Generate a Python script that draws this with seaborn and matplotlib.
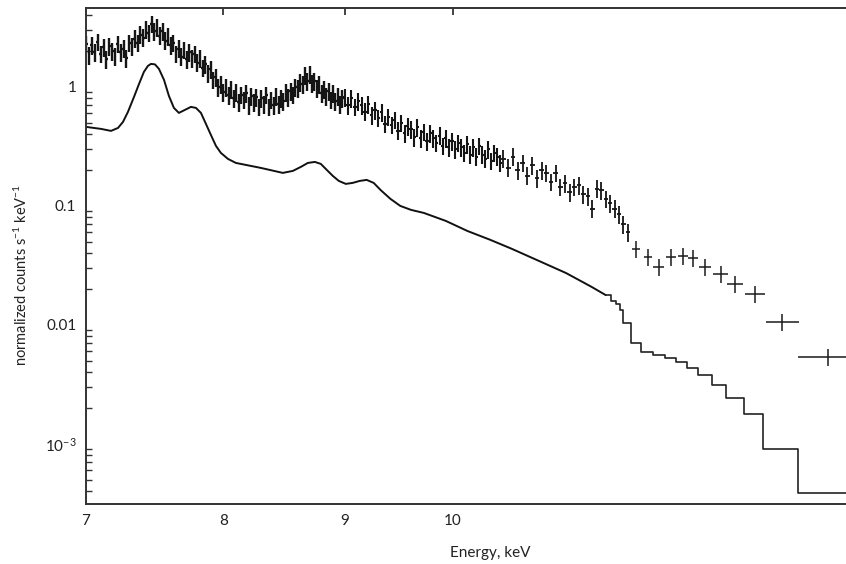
import numpy as np
import seaborn as sns
import matplotlib
matplotlib.use("Agg")
import matplotlib.pyplot as plt
from matplotlib.ticker import FixedLocator, NullFormatter, LogLocator

# --- observed spectrum (dense part, three binnings) ---
e_lo = np.arange(7.00, 8.99, 0.02)          # 7.00 .. 8.98
c_lo = [2.30, 1.85, 2.25, 1.95, 2.40, 1.90, 2.15, 1.70, 2.20, 2.00,
        1.80, 2.30, 1.95, 2.10, 1.75, 2.35, 2.20, 2.55, 2.35, 2.75,
        2.60, 3.05, 2.85, 3.40, 2.95, 3.15, 2.70, 2.95, 2.45, 2.65,
        2.25, 2.35, 1.90, 2.10, 1.80, 2.05, 1.70, 1.95, 1.75, 1.90,
        1.60, 1.75, 1.45, 1.55, 1.30, 1.40, 1.15, 1.20, 1.00, 1.05,
        0.90, 1.00, 0.85, 0.96, 0.80, 0.90, 0.74, 0.86, 0.78, 0.88,
        0.70, 0.84, 0.74, 0.82, 0.68, 0.80, 0.72, 0.86, 0.68, 0.78,
        0.70, 0.84, 0.72, 0.80, 0.76, 0.90, 0.82, 0.92, 0.86, 1.00,
        0.98, 1.10, 1.05, 1.25, 1.12, 1.28, 1.08, 1.12, 0.98, 1.05,
        0.88, 0.96, 0.84, 0.92, 0.78, 0.88, 0.76, 0.84, 0.72, 0.80]

e_mid = np.arange(9.00, 10.49, 0.03)        # 9.00 .. 10.47
c_mid = [0.82, 0.70, 0.80, 0.68, 0.76, 0.70, 0.62, 0.72, 0.58, 0.64,
         0.55, 0.61, 0.49, 0.56, 0.48, 0.53, 0.43, 0.50, 0.41, 0.47,
         0.44, 0.38, 0.46, 0.37, 0.42, 0.35, 0.41, 0.37, 0.34, 0.39,
         0.32, 0.37, 0.31, 0.35, 0.30, 0.34, 0.31, 0.28, 0.33, 0.27,
         0.31, 0.26, 0.32, 0.27, 0.25, 0.30, 0.24, 0.28, 0.26, 0.23]

e_hi = np.arange(10.50, 11.86, 0.05)        # 10.50 .. 11.85
c_hi = [0.25, 0.21, 0.26, 0.20, 0.23, 0.18, 0.22, 0.17, 0.20, 0.19,
        0.16, 0.19, 0.145, 0.155, 0.13, 0.145, 0.15, 0.125, 0.12, 0.095,
        0.14, 0.135, 0.115, 0.105, 0.095, 0.085, 0.07, 0.06]

# --- observed spectrum (wide bins at high energy) ---
e_wide = [11.95, 12.08, 12.21, 12.36, 12.50, 12.63, 12.78, 12.97,
          13.15, 13.41, 13.77, 14.40]
w_wide = [0.046, 0.047, 0.06, 0.06, 0.06, 0.06, 0.075, 0.09,
          0.10, 0.135, 0.22, 0.42]
c_wide = [0.0435, 0.0373, 0.0307, 0.0373, 0.038, 0.0366, 0.0307, 0.0268,
          0.0221, 0.0182, 0.0106, 0.00538]

rel_err = {"lo": 0.17, "mid": 0.17, "hi": 0.17, "wide": 0.16}

# --- folded model: smooth part and coarse-binned part ---
m_e = [7.00, 7.103, 7.172, 7.221, 7.256, 7.291, 7.334, 7.370, 7.405, 7.434,
       7.456, 7.485, 7.514, 7.551, 7.587, 7.624, 7.661, 7.706, 7.751, 7.789,
       7.827, 7.865, 7.903, 7.942, 7.980, 8.035, 8.097, 8.296, 8.475, 8.558,
       8.625, 8.684, 8.743, 8.794, 8.845, 8.897, 8.949, 9.010, 9.071, 9.133,
       9.195, 9.258, 9.32, 9.41, 9.50, 9.60, 9.72, 9.93, 10.14, 10.37,
       10.59, 10.87, 11.16, 11.44, 11.60]
m_v = [0.4612, 0.4436, 0.4269, 0.4521, 0.5080, 0.6166, 0.8240, 1.0598, 1.3366, 1.5012,
       1.5605, 1.5455, 1.4164, 1.1450, 0.8401, 0.6661, 0.6045, 0.6408, 0.6790, 0.6661,
       0.6045, 0.4887, 0.3950, 0.3192, 0.2789, 0.2483, 0.2297, 0.2086, 0.1894, 0.1968,
       0.2127, 0.2297, 0.2342, 0.2254, 0.2007, 0.1787, 0.1622, 0.1531, 0.1561, 0.1622,
       0.1654, 0.156, 0.136, 0.1145, 0.100, 0.0926, 0.0873, 0.0748, 0.0616, 0.0518,
       0.0435, 0.0345, 0.0273, 0.0209, 0.0178]

s_e = [11.60, 11.66, 11.72, 11.76, 11.79, 11.89, 12.00, 12.14, 12.29, 12.42,
       12.55, 12.69, 12.86, 13.04, 13.27, 13.52, 13.98, 15.0]
s_v = [0.0178, 0.0160, 0.0150, 0.0134, 0.0104, 0.00706, 0.00593, 0.00560, 0.00528, 0.00489,
       0.00435, 0.00380, 0.00313, 0.00244, 0.00179, 0.000908, 0.000388, 0.000388]

sns.set_theme(style="white")
plt.rcParams["font.family"] = ["Lato", "DejaVu Sans"]
plt.rcParams["mathtext.fontset"] = "custom"
plt.rcParams["mathtext.rm"] = "Lato"
plt.rcParams["mathtext.default"] = "regular"

fig = plt.figure(figsize=(8.46, 5.64), dpi=100)
ax = fig.add_axes([0.1017, 0.1064, 0.8983, 0.8794])

# data with error bars
segments = [(e_lo, c_lo, 0.01, rel_err["lo"], 1.7),
            (e_mid, c_mid, 0.015, rel_err["mid"], 1.5),
            (e_hi, c_hi, 0.025, rel_err["hi"], 1.3)]
for e, c, hw, r, lw in segments:
    c = np.asarray(c)
    ax.errorbar(e, c, xerr=hw, yerr=c * r, fmt="none", ecolor="#151515",
                elinewidth=lw, capsize=0)
cw = np.asarray(c_wide)
ax.errorbar(e_wide, cw, xerr=w_wide, yerr=cw * rel_err["wide"], fmt="none",
            ecolor="#1a1a1a", elinewidth=1.1, capsize=0)

# model
sns.lineplot(x=m_e, y=m_v, ax=ax, color="#111111", linewidth=1.4,
             sort=False, estimator=None)
sns.lineplot(x=s_e, y=s_v, ax=ax, color="#222222", linewidth=1.2,
             sort=False, estimator=None, drawstyle="steps-post")

ax.set_xscale("log")
ax.set_yscale("log")
ax.set_xlim(7.0, 14.65)
ax.set_ylim(3.13e-4, 4.6)

ax.xaxis.set_major_locator(FixedLocator([7, 8, 9, 10]))
ax.xaxis.set_minor_locator(FixedLocator([]))
ax.set_xticklabels(["7", "8", "9", "10"])
ax.yaxis.set_major_locator(FixedLocator([1e-3, 1e-2, 1e-1, 1]))
ax.set_yticklabels(["10$^{-3}$", "0.01", "0.1", "1"])
ax.yaxis.set_minor_locator(LogLocator(base=10, subs=np.arange(2, 10)))
ax.yaxis.set_minor_formatter(NullFormatter())

ax.tick_params(axis="both", which="major", direction="in", length=7,
               width=1.2, colors="#222222", labelsize=11, pad=7,
               top=True, right=False)
ax.tick_params(axis="y", which="minor", direction="in", length=4,
               width=1.0, colors="#333333", left=True)
ax.tick_params(axis="y", which="major", length=9)
ax.tick_params(axis="x", which="major", length=5)

for side in ["left", "bottom", "top"]:
    ax.spines[side].set_color("#333333")
    ax.spines[side].set_linewidth(1.4)
ax.spines["right"].set_visible(False)

ax.set_xlabel("")
ax.set_ylabel("")
fig.text(490 / 846, 1 - 553 / 564, "Energy, keV", ha="center", va="center",
         fontsize=11, color="#222222")
fig.text(21 / 846, 1 - 275 / 564, "normalized counts s$^{-1}$ keV$^{-1}$",
         ha="center", va="center", rotation=90, fontsize=10.5, color="#222222")

fig.savefig("out.png", dpi=100)
